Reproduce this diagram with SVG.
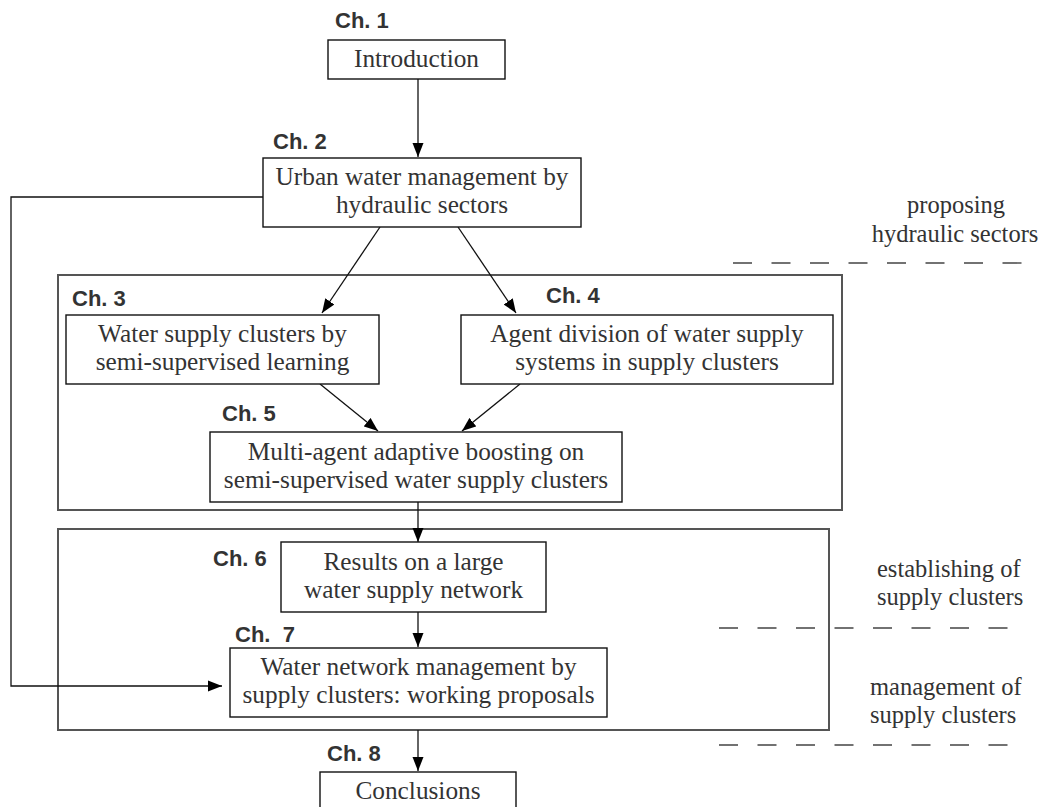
<svg xmlns="http://www.w3.org/2000/svg" width="1043" height="807" viewBox="0 0 1043 807">
<style>
.box{fill:#fff;stroke:#111;stroke-width:1.4}
.outer{fill:none;stroke:#555;stroke-width:2}
.t{font-family:"Liberation Serif","Times New Roman",serif;font-size:25.3px;fill:#333;text-anchor:middle}
.p{font-family:"Liberation Serif","Times New Roman",serif;font-size:24.5px;fill:#333;text-anchor:middle}
.s{font-family:"Liberation Serif","Times New Roman",serif;font-size:24.5px;fill:#333}
.ch{font-family:"Liberation Sans",Arial,sans-serif;font-size:22px;font-weight:bold;fill:#333}
.c{fill:none;stroke:#111;stroke-width:1.3}
.d{fill:none;stroke:#444;stroke-width:1.4;stroke-dasharray:19 19.5}
</style>
<defs>
<marker id="ah" markerUnits="userSpaceOnUse" markerWidth="14" markerHeight="12" refX="14" refY="6" orient="auto">
<path d="M0,0.5 L14,6 L0,11.5 z" fill="#000"/>
</marker>
</defs>
<rect width="1043" height="807" fill="#fff"/>

<g id="groups">
<rect class="outer" x="58" y="275" width="784" height="235"/>
<rect class="outer" x="58" y="529" width="771" height="201"/>
</g>

<g id="phases">
<line class="d" x1="733" y1="263" x2="1023" y2="263"/>
<line class="d" x1="719" y1="628" x2="1009" y2="628"/>
<line class="d" x1="719" y1="745" x2="1009" y2="745"/>
<text class="p" x="956" y="213">proposing</text>
<text class="p" x="955" y="242">hydraulic sectors</text>
<text class="s" x="877" y="577">establishing of</text>
<text class="s" x="877" y="605">supply clusters</text>
<text class="s" x="870" y="695">management of</text>
<text class="s" x="870" y="723">supply clusters</text>
</g>

<g id="connectors">
<line class="c" x1="418" y1="79" x2="418" y2="157" marker-end="url(#ah)"/>
<line class="c" x1="380" y1="227" x2="322" y2="313" marker-end="url(#ah)"/>
<line class="c" x1="458" y1="227" x2="516" y2="313" marker-end="url(#ah)"/>
<line class="c" x1="320" y1="384" x2="378" y2="431" marker-end="url(#ah)"/>
<line class="c" x1="520" y1="384" x2="462" y2="431" marker-end="url(#ah)"/>
<line class="c" x1="418" y1="502" x2="418" y2="542" marker-end="url(#ah)"/>
<line class="c" x1="418" y1="612" x2="418" y2="647" marker-end="url(#ah)"/>
<line class="c" x1="418" y1="730" x2="418" y2="771" marker-end="url(#ah)"/>
<polyline class="c" points="263,197 11,197 11,686 222,686" marker-end="url(#ah)"/>
</g>

<g id="ch1">
<text class="ch" x="335" y="28">Ch. 1</text>
<rect class="box" x="328" y="40" width="177" height="39"/>
<text class="t" x="416.5" y="67">Introduction</text>
</g>

<g id="ch2">
<text class="ch" x="273" y="149">Ch. 2</text>
<rect class="box" x="263" y="158" width="318" height="69"/>
<text class="t" x="422" y="185">Urban water management by</text>
<text class="t" x="422" y="213">hydraulic sectors</text>
</g>

<g id="ch3">
<text class="ch" x="72" y="306">Ch. 3</text>
<rect class="box" x="66" y="315" width="313" height="69"/>
<text class="t" x="222.5" y="342">Water supply clusters by</text>
<text class="t" x="222.5" y="370">semi-supervised learning</text>
</g>

<g id="ch4">
<text class="ch" x="546" y="303">Ch. 4</text>
<rect class="box" x="461" y="315" width="372" height="69"/>
<text class="t" x="647" y="342">Agent division of water supply</text>
<text class="t" x="647" y="370">systems in supply clusters</text>
</g>

<g id="ch5">
<text class="ch" x="222" y="421">Ch. 5</text>
<rect class="box" x="210" y="432" width="412" height="70"/>
<text class="t" x="416" y="460">Multi-agent adaptive boosting on</text>
<text class="t" x="416" y="488">semi-supervised water supply clusters</text>
</g>

<g id="ch6">
<text class="ch" x="213" y="566">Ch. 6</text>
<rect class="box" x="281" y="542" width="265" height="70"/>
<text class="t" x="413.5" y="570">Results on a large</text>
<text class="t" x="413.5" y="598">water supply network</text>
</g>

<g id="ch7">
<text class="ch" x="235" y="642" xml:space="preserve">Ch.  7</text>
<rect class="box" x="230" y="648" width="377" height="69"/>
<text class="t" x="418.5" y="675">Water network management by</text>
<text class="t" x="418.5" y="703">supply clusters: working proposals</text>
</g>

<g id="ch8">
<text class="ch" x="327" y="761">Ch. 8</text>
<rect class="box" x="320" y="772" width="196" height="50"/>
<text class="t" x="418" y="799">Conclusions</text>
</g>
</svg>
